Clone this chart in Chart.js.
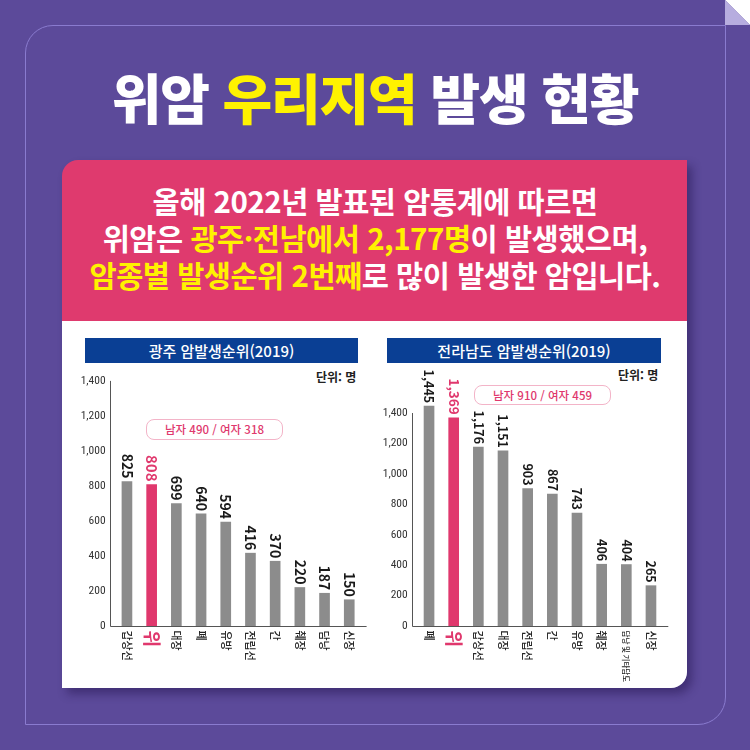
<!DOCTYPE html>
<html lang="ko">
<head>
<meta charset="utf-8">
<script src="https://cdn.jsdelivr.net/npm/chart.js@4/dist/chart.umd.min.js"></script>
<style>
  html, body { margin:0; padding:0; }
  body { width:750px; height:750px; overflow:hidden; font-family:"Noto Sans CJK KR","Noto Sans",sans-serif; }
  #stage { position:relative; width:750px; height:750px; background:#5c4a9a; overflow:hidden; }
  .frame { position:absolute; left:25px; top:25px; width:701px; height:700px; box-sizing:border-box;
           border:1.5px solid #8a7bcf; border-radius:28px 0 28px 0; }
  .fold-w { position:absolute; left:725px; top:0; width:25px; height:25px; background:#fff;
            clip-path:polygon(0 0,100% 0,100% 100%); }
  .fold-l { position:absolute; left:725px; top:0; width:25px; height:25px; background:#b7addf;
            clip-path:polygon(0 0,0 100%,100% 100%); }
  .title { position:absolute; left:0; top:65px; width:750px; text-align:center; color:#fff;
           font-size:54px; font-weight:900; line-height:64px; letter-spacing:-1.2px; }
  .yel { color:#fff200; }
  .card { position:absolute; left:62px; top:160px; width:625px; height:528px; border-radius:16px 0 16px 0;
          overflow:hidden; box-shadow:5px 6px 10px rgba(30,15,70,0.45); }
  .pink { position:absolute; left:0; top:0; width:625px; height:161px; background:#df3a6e; }
  .white { position:absolute; left:0; top:161px; width:625px; height:367px; background:#fff; }
  .line { position:absolute; left:0; width:750px; text-align:center; color:#fff; font-size:29.5px;
          font-weight:700; line-height:36px; letter-spacing:-0.5px; white-space:nowrap; }
  .bar-title { position:absolute; top:338px; height:25px; background:#0a3f94; color:#fff; font-size:15px;
               font-weight:500; line-height:25px; text-align:center; }
  .unit { position:absolute; font-size:12px; font-weight:700; color:#222; line-height:14px; white-space:nowrap; }
  .note { position:absolute; box-sizing:border-box; border:1px solid #f3b4c8; border-radius:8px; color:#e0386d;
          font-size:11.5px; font-weight:500; text-align:center; white-space:nowrap; }
  canvas { position:absolute; }
</style>
</head>
<body>
<div id="stage">
  <div class="frame"></div>
  <div class="fold-w"></div>
  <div class="fold-l"></div>
  <div class="title">위암 <span class="yel">우리지역</span> 발생 현황</div>
  <div class="card"><div class="pink"></div><div class="white"></div></div>
  <div class="line" style="top:182px">올해 2022년 발표된 암통계에 따르면</div>
  <div class="line" style="top:219px">위암은 <span class="yel">광주·전남에서 2,177명</span>이 발생했으며,</div>
  <div class="line" style="top:256px"><span class="yel">암종별 발생순위 2번째</span>로 많이 발생한 암입니다.</div>

  <div class="bar-title" style="left:85px;width:273px">광주 암발생순위(2019)</div>
  <div class="bar-title" style="left:387px;width:274px">전라남도 암발생순위(2019)</div>
  <div class="unit" style="left:316px;top:370px">단위: 명</div>
  <div class="unit" style="left:618px;top:368px">단위: 명</div>
  <div class="note" style="left:146px;top:419px;width:137px;height:21px;line-height:19px">남자 490 / 여자 318</div>
  <div class="note" style="left:474px;top:385px;width:137px;height:20px;line-height:18px">남자 910 / 여자 459</div>

  <canvas id="c1" width="320" height="320" style="left:60px;top:365px"></canvas>
  <canvas id="c2" width="300" height="320" style="left:380px;top:365px"></canvas>
</div>
<script>
// ---- data ----
const gwangjuCategories = ['갑상선','위','대장','폐','유방','전립선','간','췌장','담낭','신장'];
const gwangjuValues     = [825, 808, 699, 640, 594, 416, 370, 220, 187, 150];
const jeonnamCategories = ['폐','위','갑상선','대장','전립선','간','유방','췌장','담낭 및 기타담도','신장'];
const jeonnamValues     = [1445, 1369, 1176, 1151, 903, 867, 743, 406, 404, 265];
const yAxisMax = 1400;
const yAxisStep = 200;
const highlightCategory = '위';

// ---- styles ----
const PINK = '#e0386d';
const GRAY = '#8c8c8c';
const fmt = v => v.toLocaleString('en-US');

const decor = {
  id: 'decor',
  afterDatasetsDraw(chart, args, opts) {
    const ctx = chart.ctx;
    const ys = chart.scales.y;
    const area = chart.chartArea;
    const y0 = Math.round(ys.getPixelForValue(0)) + 0.5;
    const yTop = ys.getPixelForValue(yAxisMax);
    const ax = Math.round(area.left - opts.gap) + 0.5;
    ctx.save();
    ctx.strokeStyle = '#555';
    ctx.lineWidth = 1;
    ctx.beginPath();
    ctx.moveTo(ax, yTop);
    ctx.lineTo(ax, y0);
    ctx.lineTo(area.right + opts.gap, y0);
    ctx.stroke();
    const labels = chart.data.labels;
    const vals = chart.data.datasets[0].data;
    const meta = chart.getDatasetMeta(0);
    meta.data.forEach((bar, i) => {
      const hl = labels[i] === highlightCategory;
      // value label
      ctx.save();
      ctx.translate(bar.x, bar.y - 3);
      ctx.rotate(Math.PI / 2);
      ctx.textAlign = 'right';
      ctx.textBaseline = 'middle';
      ctx.font = 'bold ' + (hl ? opts.valueSizeHl : opts.valueSize) + 'px "Noto Sans CJK KR", sans-serif';
      ctx.fillStyle = hl ? PINK : '#1a1a1a';
      ctx.fillText(fmt(vals[i]), 0, 0);
      ctx.restore();
      // category label
      ctx.save();
      ctx.translate(bar.x, y0 + 4);
      ctx.rotate(Math.PI / 2);
      ctx.textAlign = 'left';
      ctx.textBaseline = 'middle';
      if (hl) {
        ctx.font = 'bold 18px "Noto Sans CJK KR", sans-serif';
        ctx.fillStyle = PINK;
      } else if (labels[i].length > 4) {
        ctx.font = '500 7.5px "Noto Sans CJK KR", sans-serif';
        ctx.fillStyle = '#222';
      } else {
        ctx.font = '500 11px "Noto Sans CJK KR", sans-serif';
        ctx.fillStyle = '#222';
      }
      ctx.fillText(labels[i], 0, 0);
      ctx.restore();
    });
    ctx.restore();
  }
};

function makeChart(id, cats, vals, pad, yWidth, valueSize, valueSizeHl) {
  return new Chart(document.getElementById(id), {
    type: 'bar',
    data: {
      labels: cats,
      datasets: [{
        data: vals,
        backgroundColor: cats.map(c => c === highlightCategory ? PINK : GRAY),
        barThickness: 10,
        clip: false
      }]
    },
    options: {
      responsive: false,
      animation: false,
      devicePixelRatio: 1,
      layout: { padding: pad },
      plugins: { legend: { display: false }, tooltip: { enabled: false },
                 decor: { gap: 5, valueSize: valueSize, valueSizeHl: valueSizeHl } },
      scales: {
        x: {
          grid: { display: false, drawTicks: false },
          border: { display: false },
          ticks: { display: false },
          afterFit: s => { s.height = 59; }
        },
        y: {
          min: 0, max: yAxisMax,
          grid: { display: false, drawTicks: false },
          border: { display: false },
          ticks: {
            stepSize: yAxisStep,
            padding: 9,
            color: '#333',
            font: { family: '"Liberation Sans Narrow","Roboto Condensed","Noto Sans",sans-serif', size: 11.5 },
            callback: v => fmt(v)
          },
          afterFit: s => { s.width = yWidth; }
        }
      }
    },
    plugins: [decor]
  });
}

makeChart('c1', gwangjuCategories, gwangjuValues, { top: 15, right: 18.4, bottom: 0, left: 0 }, 54.6, 14, 15);
makeChart('c2', jeonnamCategories, jeonnamValues, { top: 48, right: 16.7, bottom: 0, left: 0 }, 36.7, 12.5, 13.5);
</script>
</body>
</html>
